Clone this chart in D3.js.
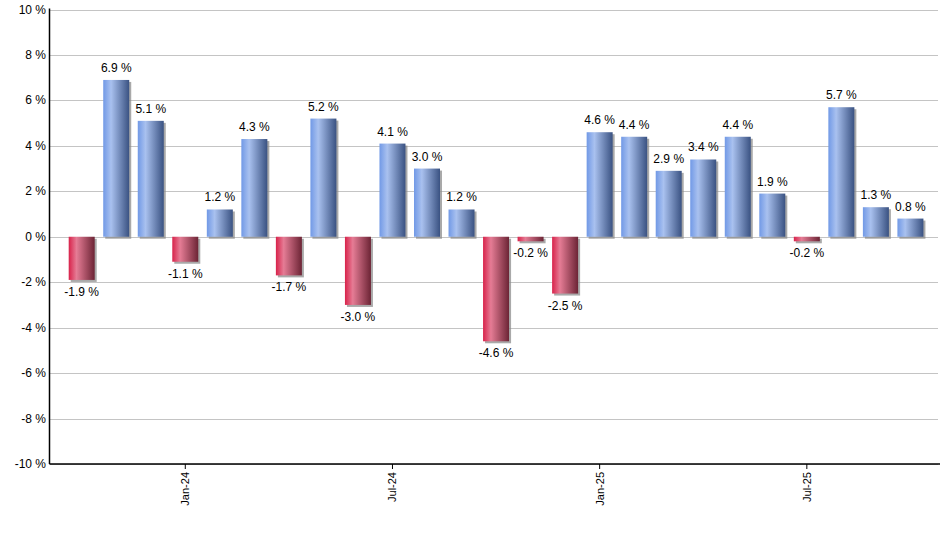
<!DOCTYPE html>
<html>
<head>
<meta charset="utf-8">
<script src="https://cdn.jsdelivr.net/npm/d3@7"></script>
<style>
body { margin: 0; background: #fff; }
svg { display: block; font-family: "Liberation Sans", Arial, sans-serif; }
</style>
</head>
<body>
<svg id="chart" width="940" height="550"></svg>
<script>
const months = ["Oct-23","Nov-23","Dec-23","Jan-24","Feb-24","Mar-24","Apr-24","May-24","Jun-24","Jul-24","Aug-24","Sep-24","Oct-24","Nov-24","Dec-24","Jan-25","Feb-25","Mar-25","Apr-25","May-25","Jun-25","Jul-25","Aug-25","Sep-25","Oct-25"];
const values = [-1.9, 6.9, 5.1, -1.1, 1.2, 4.3, -1.7, 5.2, -3.0, 4.1, 3.0, 1.2, -4.6, -0.2, -2.5, 4.6, 4.4, 2.9, 3.4, 4.4, 1.9, -0.2, 5.7, 1.3, 0.8];
const xTickLabels = ["Jan-24","Jul-24","Jan-25","Jul-25"];
const yTicks = [-10, -8, -6, -4, -2, 0, 2, 4, 6, 8, 10];

const svg = d3.select("#chart");
const pLeft = 49.5, pTop = 9.5, pBottom = 464;
const step = 34.53;
const firstCenter = 81.7;

const x = d3.scaleBand()
  .domain(months)
  .range([firstCenter - step / 2, firstCenter - step / 2 + step * months.length])
  .paddingInner(0.247)
  .paddingOuter(0.1235);
const y = d3.scaleLinear().domain([-10, 10]).range([pBottom, pTop]);

const defs = svg.append("defs");
const blue = defs.append("linearGradient").attr("id", "gBlue").attr("x1", "0").attr("x2", "1").attr("y1", "0").attr("y2", "0");
blue.append("stop").attr("offset", "0").attr("stop-color", "#7199e6");
blue.append("stop").attr("offset", "0.3").attr("stop-color", "#a9c1ef");
blue.append("stop").attr("offset", "1").attr("stop-color", "#3a5282");
const red = defs.append("linearGradient").attr("id", "gRed").attr("x1", "0").attr("x2", "1").attr("y1", "0").attr("y2", "0");
red.append("stop").attr("offset", "0").attr("stop-color", "#d8224a");
red.append("stop").attr("offset", "0.3").attr("stop-color", "#e57c95");
red.append("stop").attr("offset", "1").attr("stop-color", "#6c2435");

// gridlines
svg.append("g").selectAll("line").data(yTicks).join("line")
  .attr("x1", pLeft).attr("x2", 938)
  .attr("y1", d => Math.round(y(d)) + 0.5).attr("y2", d => Math.round(y(d)) + 0.5)
  .attr("stroke", "#c4c4c4").attr("stroke-width", 1);

// y axis labels
svg.append("g").selectAll("text").data(yTicks).join("text")
  .attr("x", 46).attr("y", d => y(d) + 4)
  .attr("text-anchor", "end").attr("font-size", 12).attr("fill", "#000")
  .text(d => d + " %");

// shadows
svg.append("g").selectAll("rect").data(values).join("rect")
  .attr("x", (d, i) => x(months[i]) + 2)
  .attr("y", d => Math.min(y(d), y(0)) + 2)
  .attr("width", x.bandwidth())
  .attr("height", d => Math.abs(y(d) - y(0)))
  .attr("fill", "#8c8c8c").attr("opacity", 0.75);

// bars
svg.append("g").selectAll("rect").data(values).join("rect")
  .attr("x", (d, i) => x(months[i]))
  .attr("y", d => Math.min(y(d), y(0)))
  .attr("width", x.bandwidth())
  .attr("height", d => Math.abs(y(d) - y(0)))
  .attr("fill", d => d < 0 ? "url(#gRed)" : "url(#gBlue)");

// value labels
svg.append("g").selectAll("text").data(values).join("text")
  .attr("x", (d, i) => x(months[i]) + x.bandwidth() / 2)
  .attr("y", d => d >= 0 ? y(d) - 8 : y(d) + 16)
  .attr("text-anchor", "middle").attr("font-size", 12).attr("fill", "#000")
  .text(d => d.toFixed(1) + " %");

// axes lines
svg.append("line").attr("x1", pLeft).attr("x2", pLeft).attr("y1", pTop - 1).attr("y2", pBottom)
  .attr("stroke", "#000").attr("stroke-width", 1.5);
svg.append("line").attr("x1", pLeft).attr("x2", 940).attr("y1", pBottom).attr("y2", pBottom)
  .attr("stroke", "#000").attr("stroke-width", 1.5);

// x ticks
const xt = svg.append("g").selectAll("g").data(xTickLabels).join("g")
  .attr("transform", d => `translate(${x(d) + x.bandwidth() / 2},${pBottom})`);
xt.append("line").attr("y1", 0).attr("y2", 5).attr("stroke", "#000").attr("stroke-width", 1);
xt.append("text")
  .attr("transform", "rotate(-90)")
  .attr("x", -8).attr("y", 4)
  .attr("text-anchor", "end").attr("font-size", 11).attr("fill", "#000")
  .text(d => d);
</script>
</body>
</html>
